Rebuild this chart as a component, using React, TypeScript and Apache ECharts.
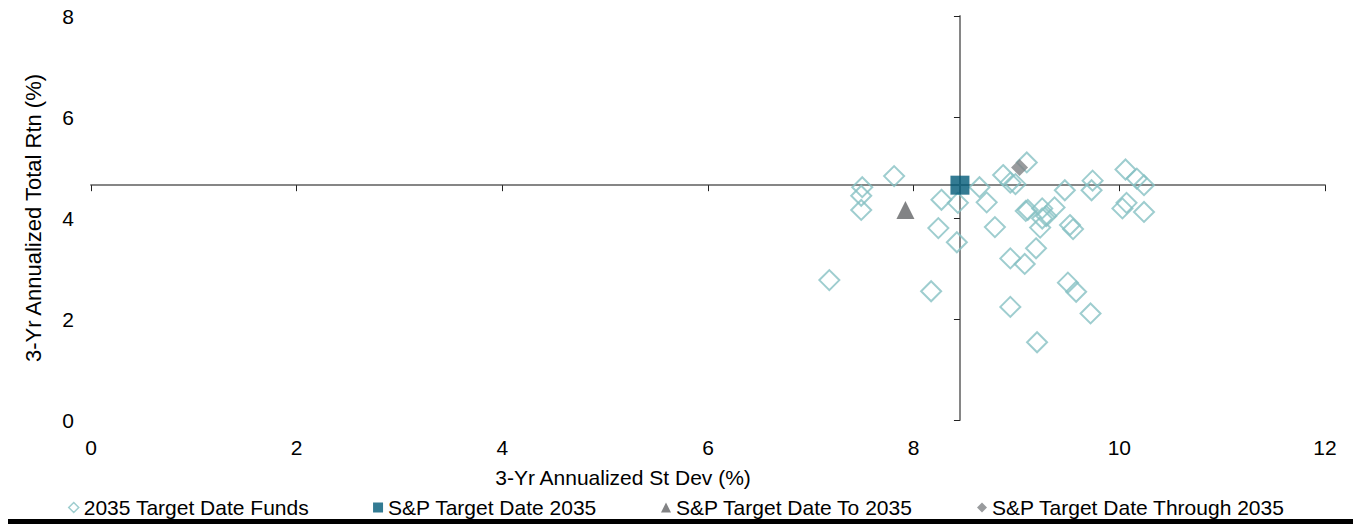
import React, { useEffect, useRef } from "react";
import * as echarts from "echarts";

// 3-Yr annualized St Dev (%) and Total Return (%) per fund
const fundsStDev = [7.18, 7.49, 7.5, 7.49, 7.81, 8.17, 8.24, 8.27, 8.42, 8.43, 8.64, 8.71, 8.79, 8.87, 8.94, 8.99, 9.1, 8.94, 9.08, 9.09, 9.19, 9.25, 9.23, 9.29, 9.25, 9.37, 9.47, 8.94, 9.2, 9.5, 9.58, 9.52, 9.55, 9.72, 9.74, 9.73, 10.06, 10.03, 10.07, 10.17, 10.24, 10.24, 9.11];
const fundsReturn = [2.77, 4.44, 4.61, 4.16, 4.83, 2.55, 3.8, 4.36, 3.52, 4.3, 4.61, 4.31, 3.82, 4.85, 4.7, 4.67, 5.1, 3.2, 3.09, 4.14, 3.4, 4.19, 3.81, 4.04, 3.99, 4.21, 4.55, 2.24, 1.54, 2.72, 2.54, 3.86, 3.78, 2.11, 4.74, 4.55, 4.96, 4.19, 4.3, 4.78, 4.65, 4.12, 4.16];

const spIndex = [8.45, 4.65];
const spTo = [7.92, 4.16];
const spThrough = [9.03, 5.0];

const seriesNames = [
  "2035 Target Date Funds",
  "S&P Target Date 2035",
  "S&P Target Date To 2035",
  "S&P Target Date Through 2035",
];

const xTicks = { min: 0, max: 12, interval: 2 };
const yTicks = { min: 0, max: 8, interval: 2 };
const crossAt = { x: 8.45, y: 4.65 };

const FONT = "'Liberation Sans', Arial, sans-serif";

export default function App() {
  const ref = useRef<HTMLDivElement>(null);
  useEffect(() => {
    if (!ref.current) return;
    const chart = echarts.init(ref.current, undefined, { renderer: "svg" });
    const teal = "#86c1c3";
    const axisGray = "#868686";
    const txt = { color: "#000", fontFamily: FONT, fontSize: 21 };
    const option: any = {
      animation: false,
      backgroundColor: "#fff",
      textStyle: { fontFamily: FONT },
      grid: { left: 91, right: 28, top: 16, bottom: 104, containLabel: false },
      xAxis: [
        {
          type: "value",
          min: xTicks.min,
          max: xTicks.max,
          interval: xTicks.interval,
          position: "bottom",
          axisLine: { show: false, onZero: false },
          axisTick: { show: false },
          splitLine: { show: false },
          axisLabel: { ...txt, margin: 17 },
          name: "3-Yr Annualized St Dev (%)",
          nameLocation: "middle",
          nameGap: 47,
          nameTextStyle: { ...txt, padding: [0, 170, 0, 0] },
        },
        {
          type: "value",
          min: -crossAt.x,
          max: xTicks.max - crossAt.x,
          show: false,
          position: "top",
          axisLine: { onZero: false },
        },
        {
          type: "value",
          min: xTicks.min,
          max: xTicks.max,
          interval: xTicks.interval,
          position: "bottom",
          axisLine: { show: true, onZero: true, onZeroAxisIndex: 1, lineStyle: { color: axisGray, width: 2 } },
          axisTick: { show: true, length: 6, lineStyle: { color: "#222", width: 1 } },
          axisLabel: { show: false },
          splitLine: { show: false },
        },
      ],
      yAxis: [
        {
          type: "value",
          min: yTicks.min,
          max: yTicks.max,
          interval: yTicks.interval,
          position: "left",
          axisLine: { show: false, onZero: false },
          axisTick: { show: false },
          splitLine: { show: false },
          axisLabel: { ...txt, margin: 17 },
          name: "3-Yr Annualized Total Rtn (%)",
          nameLocation: "middle",
          nameGap: 47,
          nameTextStyle: { ...txt, fontSize: 22 },
        },
        {
          type: "value",
          min: -crossAt.y,
          max: yTicks.max - crossAt.y,
          show: false,
          position: "right",
          axisLine: { onZero: false },
        },
        {
          type: "value",
          min: yTicks.min,
          max: yTicks.max,
          interval: yTicks.interval,
          position: "left",
          axisLine: { show: true, onZero: true, onZeroAxisIndex: 1, lineStyle: { color: axisGray, width: 2 } },
          axisTick: { show: true, length: 6, lineStyle: { color: "#222", width: 1 } },
          axisLabel: { show: false },
          splitLine: { show: false },
        },
      ],
      legend: {
        top: 492,
        left: "center",
        itemGap: 64,
        itemWidth: 10,
        itemHeight: 10,
        textStyle: { ...txt },
        data: [
          { name: seriesNames[0], icon: "diamond", itemStyle: { color: "#fff", borderColor: teal, borderWidth: 1.5 } },
          { name: seriesNames[1], icon: "rect", itemStyle: { color: "#005a78", borderWidth: 0 } },
          { name: seriesNames[2], icon: "triangle", itemStyle: { color: "#636466", borderWidth: 0 } },
          { name: seriesNames[3], icon: "diamond", itemStyle: { color: "#808285", borderWidth: 0 } },
        ],
      },
      graphic: [
        { type: "rect", left: 8, top: 519, shape: { width: 1345, height: 5 }, style: { fill: "#000" } },
      ],
      series: [
        {
          name: seriesNames[0],
          type: "scatter",
          symbol: "diamond",
          symbolSize: 20,
          itemStyle: { color: "rgba(255,255,255,0)", borderColor: teal, borderWidth: 2 },
          data: fundsStDev.map((x, i) => [x, fundsReturn[i]]),
          z: 3,
        },
        {
          name: seriesNames[1],
          type: "scatter",
          symbol: "rect",
          symbolSize: 19,
          itemStyle: { color: "#005a78" },
          data: [spIndex],
          z: 4,
        },
        {
          name: seriesNames[2],
          type: "scatter",
          symbol: "triangle",
          symbolSize: 18,
          itemStyle: { color: "#636466" },
          data: [spTo],
          z: 4,
        },
        {
          name: seriesNames[3],
          type: "scatter",
          symbol: "diamond",
          symbolSize: 17,
          itemStyle: { color: "#808285" },
          data: [spThrough],
          z: 4,
        },
      ],
    };
    chart.setOption(option);
    return () => chart.dispose();
  }, []);
  return (
    <div
      ref={ref}
      style={{ position: "fixed", left: 0, top: 0, width: 1353, height: 524, background: "#fff" }}
    />
  );
}
